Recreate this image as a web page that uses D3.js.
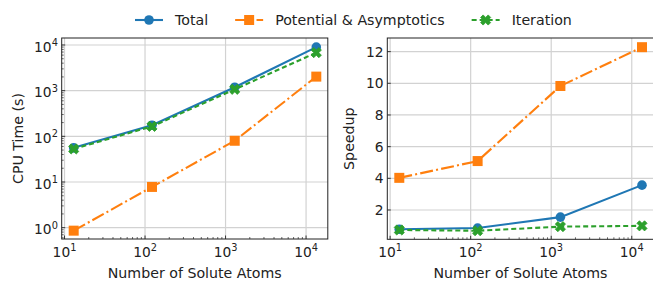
<!DOCTYPE html>
<html>
<head>
<meta charset="utf-8">
<script src="https://d3js.org/d3.v7.min.js"></script>
<style>
  body { margin: 0; background: #fff; font-family: "DejaVu Sans", sans-serif; }
  svg { display: block; }
</style>
</head>
<body>
<div id="chart"></div>
<script>
var width = 653, height = 281;

// ----- Data -----
var atoms = [13, 122, 1300, 13400];
var seriesNames = ['Total', 'Potential & Asymptotics', 'Iteration'];
var cpuTotal = [56, 175, 1190, 9000];
var cpuPotential = [0.86, 7.8, 80, 2030];
var cpuIteration = [53, 165, 1070, 6800];
var spTotal = [0.78, 0.86, 1.55, 3.57];
var spPotential = [4.03, 5.09, 9.83, 12.28];
var spIteration = [0.74, 0.69, 0.95, 1.0];
var xMajor = [10, 100, 1000, 10000];
var cpuMajor = [1, 10, 100, 1000, 10000];
var spMajor = [2, 4, 6, 8, 10, 12];

// ----- Styles -----
var colors = ['#1f77b4', '#ff7f0e', '#2ca02c'];
var dashes = [null, '13,3.2,2,3.2', '5,3'];
var markers = ['circle', 'square', 'x'];
var spineColor = '#222';
var gridColor = '#d2d2d2';
var tickFont = '13.8px';
var labelFont = '14.2px';

var svg = d3.select('#chart').append('svg')
  .attr('width', width).attr('height', height);

// ----- Helpers -----
function addMarker(g, type, x, y, c) {
  if (type === 'circle') {
    g.append('circle').attr('cx', x).attr('cy', y).attr('r', 4.8).attr('fill', c);
  } else if (type === 'square') {
    g.append('rect').attr('x', x - 5).attr('y', y - 5)
      .attr('width', 10).attr('height', 10).attr('fill', c);
  } else {
    var pts = [[-1,-3],[1,-3],[1,-1],[3,-1],[3,1],[1,1],[1,3],[-1,3],[-1,1],[-3,1],[-3,-1],[-1,-1]];
    var s = 5.4 / 3, a = Math.PI / 4;
    var p = pts.map(function (q) {
      var px = q[0] * s, py = q[1] * s;
      return [x + px * Math.cos(a) - py * Math.sin(a), y + px * Math.sin(a) + py * Math.cos(a)];
    });
    g.append('polygon').attr('points', p.map(function (q) { return q.join(','); }).join(' '))
      .attr('fill', c).attr('stroke', c).attr('stroke-width', 0.8).attr('stroke-linejoin', 'round');
  }
}

function powLabel(sel, v) {
  var e = Math.round(Math.log10(v));
  sel.append('tspan').text('10');
  sel.append('tspan').attr('font-size', '9.8px').attr('dy', -5.7).text(e);
}

function minorTicks(scale) {
  var d = scale.domain();
  var out = [];
  for (var e = Math.floor(Math.log10(d[0])); e <= Math.ceil(Math.log10(d[1])); e++) {
    for (var m = 2; m <= 9; m++) {
      var v = m * Math.pow(10, e);
      if (v >= d[0] && v <= d[1]) out.push(v);
    }
  }
  return out;
}

function drawPanel(opt) {
  var g = svg.append('g');
  var x = opt.x, y = opt.y;
  var x0 = x.range()[0], x1 = x.range()[1];
  var y0 = y.range()[0], y1 = y.range()[1];   // y0 bottom, y1 top

  // grid
  g.selectAll('.gx').data(xMajor).enter().append('line')
    .attr('x1', function (d) { return x(d); }).attr('x2', function (d) { return x(d); })
    .attr('y1', y0).attr('y2', y1)
    .attr('stroke', gridColor).attr('stroke-width', 1.2);
  g.selectAll('.gy').data(opt.yMajor).enter().append('line')
    .attr('y1', function (d) { return y(d); }).attr('y2', function (d) { return y(d); })
    .attr('x1', x0).attr('x2', x1)
    .attr('stroke', gridColor).attr('stroke-width', 1.2);

  // series
  opt.series.forEach(function (vals, i) {
    var line = d3.line().x(function (d, j) { return x(atoms[j]); }).y(function (d) { return y(d); });
    g.append('path').datum(vals).attr('d', line)
      .attr('fill', 'none').attr('stroke', colors[i]).attr('stroke-width', 2.1)
      .attr('stroke-dasharray', dashes[i]);
    vals.forEach(function (v, j) { addMarker(g, markers[i], x(atoms[j]), y(v), colors[i]); });
  });

  // ticks (inward)
  g.selectAll('.txM').data(xMajor).enter().append('line')
    .attr('x1', function (d) { return x(d); }).attr('x2', function (d) { return x(d); })
    .attr('y1', y0).attr('y2', y0 - 3.5).attr('stroke', spineColor).attr('stroke-width', 0.9);
  g.selectAll('.txm').data(minorTicks(x)).enter().append('line')
    .attr('x1', function (d) { return x(d); }).attr('x2', function (d) { return x(d); })
    .attr('y1', y0).attr('y2', y0 - 2).attr('stroke', spineColor).attr('stroke-width', 0.7);
  g.selectAll('.tyM').data(opt.yMajor).enter().append('line')
    .attr('y1', function (d) { return y(d); }).attr('y2', function (d) { return y(d); })
    .attr('x1', x0).attr('x2', x0 + 3.5).attr('stroke', spineColor).attr('stroke-width', 0.9);
  if (opt.yLog) {
    g.selectAll('.tym').data(minorTicks(y)).enter().append('line')
      .attr('y1', function (d) { return y(d); }).attr('y2', function (d) { return y(d); })
      .attr('x1', x0).attr('x2', x0 + 2).attr('stroke', spineColor).attr('stroke-width', 0.7);
  }

  // spines
  g.append('rect').attr('x', x0).attr('y', y1).attr('width', x1 - x0).attr('height', y0 - y1)
    .attr('fill', 'none').attr('stroke', spineColor).attr('stroke-width', 1);

  // tick labels
  xMajor.forEach(function (v) {
    var t = g.append('text').attr('x', x(v)).attr('y', y0 + 17.5)
      .attr('text-anchor', 'middle').attr('font-size', tickFont).attr('fill', '#222');
    powLabel(t, v);
  });
  opt.yMajor.forEach(function (v) {
    var t = g.append('text').attr('x', x0 - 3.8)
      .attr('text-anchor', 'end').attr('font-size', tickFont).attr('fill', '#222');
    if (opt.yLog) { t.attr('y', y(v) + 6.8); powLabel(t, v); }
    else { t.attr('y', y(v) + 5).text(v); }
  });

  // axis labels
  g.append('text').attr('x', (x0 + x1) / 2).attr('y', 278)
    .attr('text-anchor', 'middle').attr('font-size', labelFont).attr('fill', '#222')
    .text('Number of Solute Atoms');
  g.append('text').attr('transform', 'translate(' + opt.ylabelX + ',' + ((y0 + y1) / 2) + ') rotate(-90)')
    .attr('text-anchor', 'middle').attr('font-size', labelFont).attr('fill', '#222')
    .text(opt.ylabel);
}

// ----- Main -----
var xDomain = [Math.pow(10, 0.965), Math.pow(10, 4.27)];

drawPanel({
  x: d3.scaleLog().domain(xDomain).range([61.7, 327.8]),
  y: d3.scaleLog().domain([Math.pow(10, -0.248), Math.pow(10, 4.153)]).range([239, 38]),
  yLog: true,
  yMajor: cpuMajor,
  series: [cpuTotal, cpuPotential, cpuIteration],
  ylabel: 'CPU Time (s)',
  ylabelX: 23
});

drawPanel({
  x: d3.scaleLog().domain(xDomain).range([387.3, 653.5]),
  y: d3.scaleLinear().domain([0.15, 12.86]).range([239.3, 38]),
  yLog: false,
  yMajor: spMajor,
  series: [spTotal, spPotential, spIteration],
  ylabel: 'Speedup',
  ylabelX: 354
});

// legend
var lg = svg.append('g');
var lx = 135, ly = 20;
seriesNames.forEach(function (name, i) {
  lg.append('line').attr('x1', lx).attr('x2', lx + 28).attr('y1', ly).attr('y2', ly)
    .attr('stroke', colors[i]).attr('stroke-width', 2.1).attr('stroke-dasharray', dashes[i]);
  addMarker(lg, markers[i], lx + 14, ly, colors[i]);
  var t = lg.append('text').attr('x', lx + 40).attr('y', ly + 5)
    .attr('font-size', labelFont).attr('fill', '#222').text(name);
  lx = lx + 40 + t.node().getComputedTextLength() + 27;
});
</script>
</body>
</html>
